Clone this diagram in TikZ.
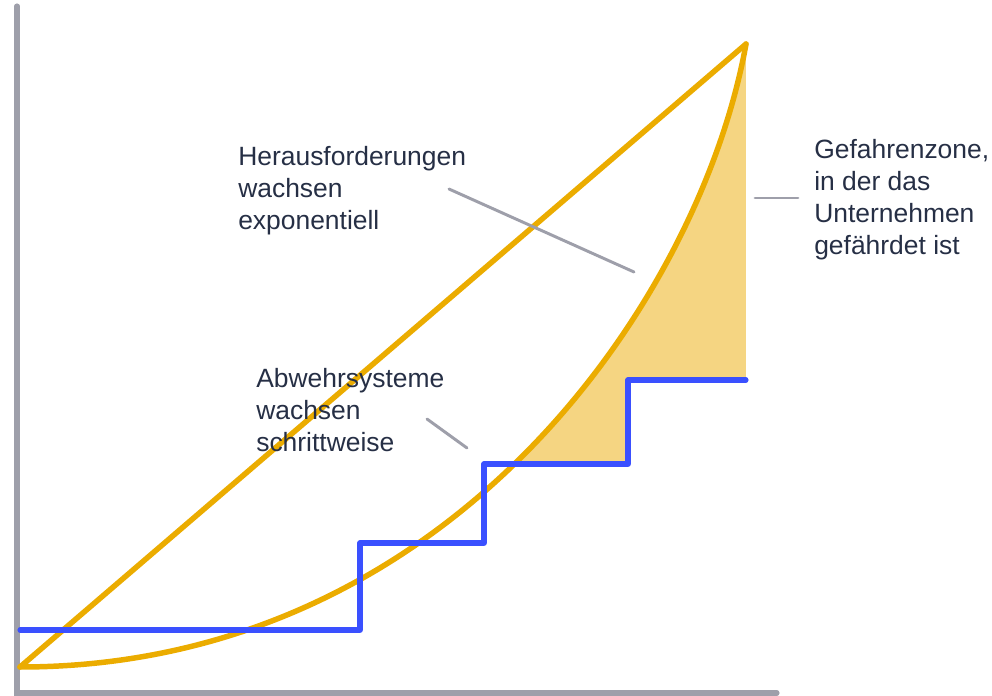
\documentclass[tikz,border=0pt]{standalone}
\usepackage{fontspec}
\setmainfont{Liberation Sans}
\definecolor{gold}{HTML}{EBAC00}
\definecolor{goldfill}{HTML}{F5D582}
\definecolor{stepblue}{HTML}{3A50FF}
\definecolor{axisgray}{HTML}{9E9FAA}
\definecolor{inkblue}{HTML}{262F45}

\begin{document}
\begin{tikzpicture}[x=0.025cm, y=-0.025cm,
    axis/.style = {draw=axisgray, line width=3.6pt, line cap=round},
    growth/.style = {draw=gold, line width=3.9pt, line join=round, line cap=round},
    defense/.style = {draw=stepblue, line width=3.6pt, line join=round, line cap=round},
    leader/.style = {draw=axisgray, line width=2.1pt, line cap=round},
    label/.style = {anchor=north west, inner sep=0pt, align=left, text=inkblue,
        font=\fontsize{18.8}{22.8}\selectfont}]
    \useasboundingbox (0,0) rectangle (992,696);

    % axes
    \draw[axis] (17,6) -- (17,693) -- (777,693);

    % danger zone between the curve and the top steps
    \begin{scope}
        \clip (484,0) -- (484,464) -- (628,464) -- (628,380) -- (746,380) -- (746,0) -- cycle;
        \fill[goldfill] (20,667) .. controls (450,667) and (700,300) .. (746,44)
            -- (746,700) -- cycle;
    \end{scope}

    % challenges
    \draw[growth] (20,667) -- (746,44);
    \draw[growth] (20,667) .. controls (450,667) and (700,300) .. (746,44);

    % defence systems
    \draw[defense] (20,630) -- (360,630) -- (360,543) -- (484,543) -- (484,464)
        -- (628,464) -- (628,380) -- (746,380);

    % labels
    \node[label] (challenges) at (238,146) {Herausforderungen\\wachsen\\exponentiell};
    \node[label] (defences) at (256,368) {Abwehrsysteme\\wachsen\\schrittweise};
    \node[label] (danger) at (814,139) {Gefahrenzone,\\in der das\\Unternehmen\\gefährdet ist};

    \coordinate (c1) at (449,189);
    \coordinate (c2) at (634,272);
    \coordinate (d1) at (427,419);
    \coordinate (d2) at (467,448);
    \coordinate (z1) at (755,198);
    \coordinate (z2) at (798,198);
    \draw[leader] (c1) -- (c2);
    \draw[leader] (d1) -- (d2);
    \draw[leader] (z1) -- (z2);
\end{tikzpicture}
\end{document}
